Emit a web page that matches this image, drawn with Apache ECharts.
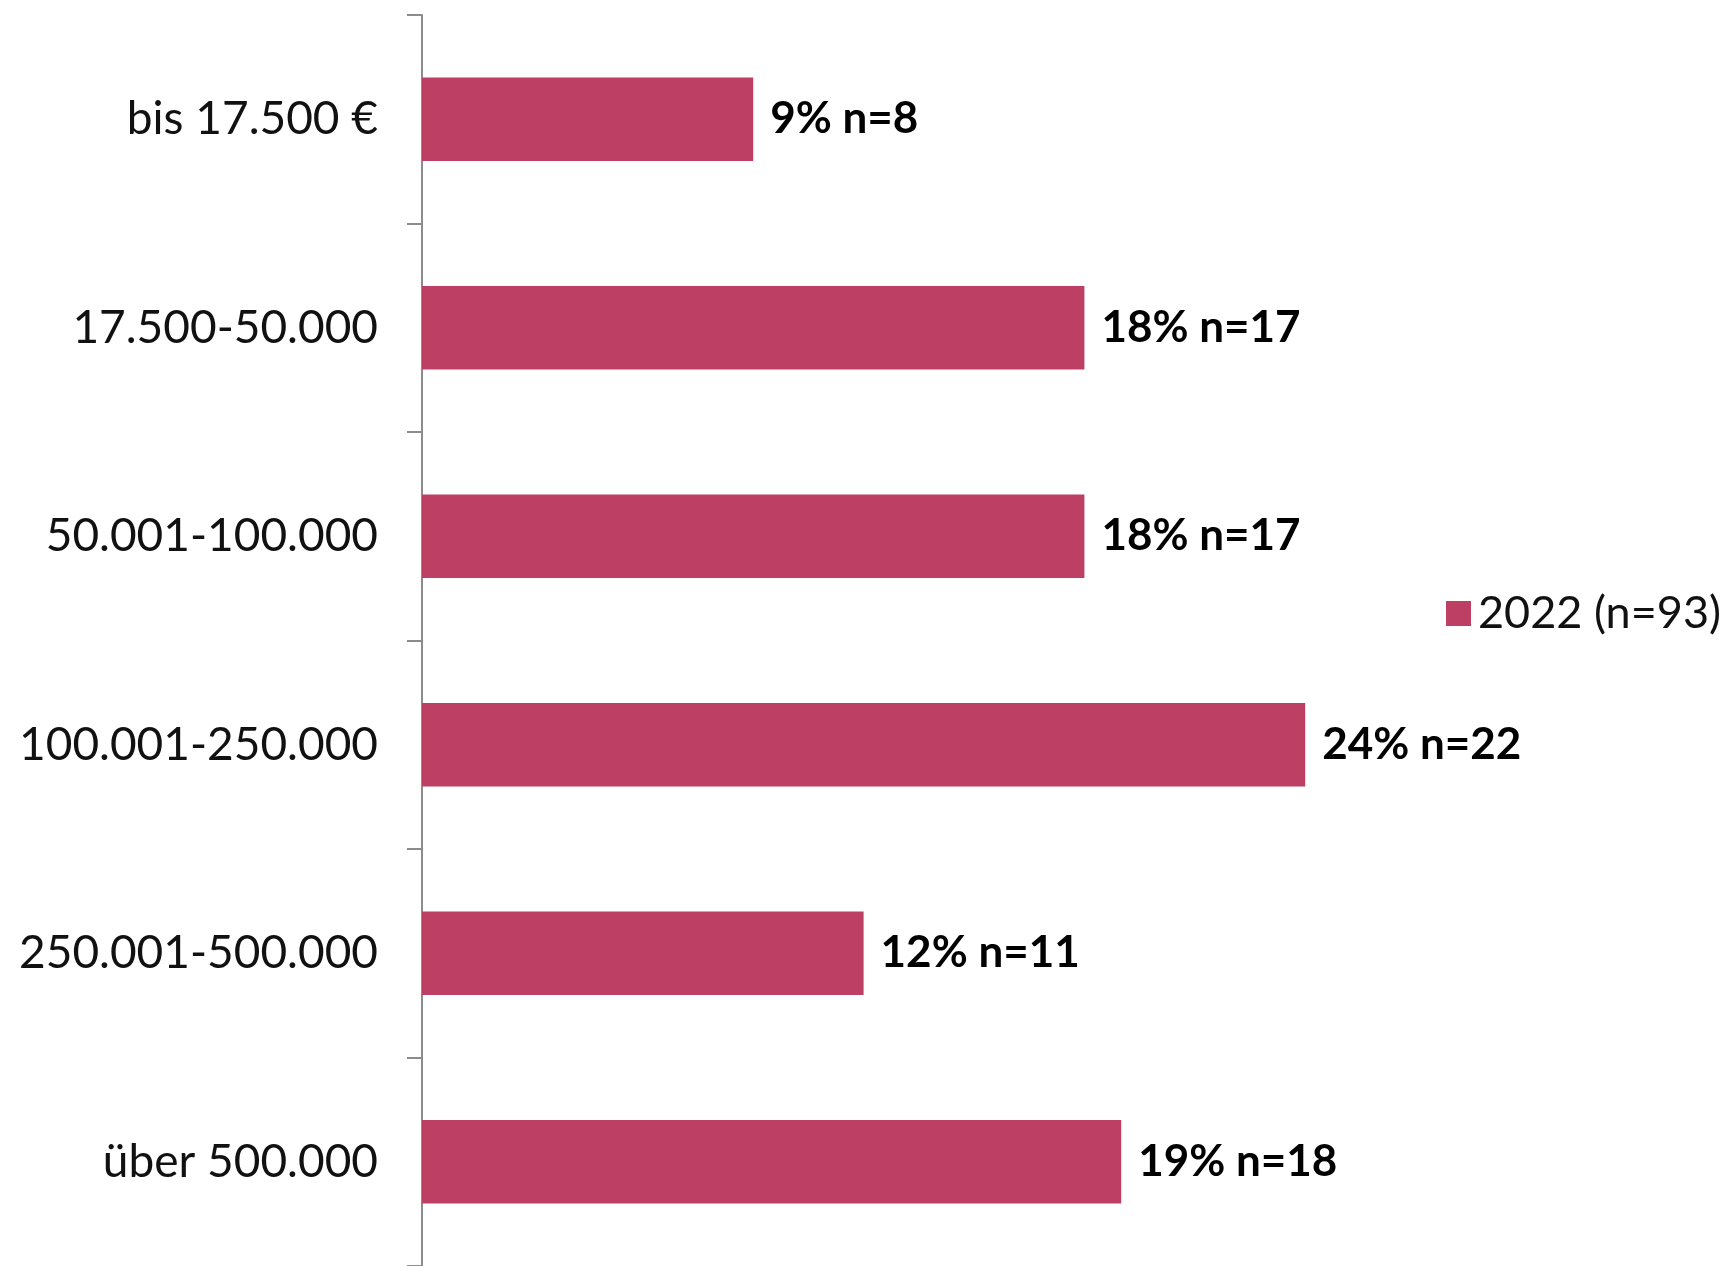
<!DOCTYPE html>
<html>
<head>
<meta charset="utf-8">
<script src="https://cdn.jsdelivr.net/npm/echarts@6/dist/echarts.min.js"></script>
<style>html,body{margin:0;padding:0;background:#fff}#c{width:1731px;height:1266px}</style>
</head>
<body>
<div id="c"></div>
<script>
const categories = ["bis 17.500 €", "17.500-50.000", "50.001-100.000", "100.001-250.000", "250.001-500.000", "über 500.000"];
const percentValues = [9, 18, 18, 24, 12, 19];
const counts = [8, 17, 17, 22, 11, 18];
const seriesName = "2022 (n=93)";

const chart = echarts.init(document.getElementById('c'), null, {renderer: 'canvas'});
chart.setOption({
  animation: false,
  backgroundColor: '#ffffff',
  textStyle: {fontFamily: 'Lato'},
  legend: {
    data: [seriesName],
    left: 1441,
    top: 586,
    icon: 'rect',
    itemWidth: 25,
    itemHeight: 25,
    itemGap: 10,
    textStyle: {fontSize: 45, color: '#111', fontFamily: 'Lato', padding: [0, 0, 0, 2]}
  },
  grid: {left: 422, top: 15, width: 1104, height: 1262, containLabel: false},
  xAxis: {
    type: 'value', min: 0, max: 30,
    show: false
  },
  yAxis: {
    type: 'category',
    data: categories,
    inverse: true,
    axisLine: {show: true, lineStyle: {color: '#8c8c8c', width: 2}},
    axisTick: {show: true, length: 15, lineStyle: {color: '#8c8c8c', width: 2}},
    axisLabel: {fontSize: 46, color: '#111', margin: 44, fontFamily: 'Lato'},
    splitLine: {show: false}
  },
  series: [{
    name: seriesName,
    type: 'bar',
    data: percentValues,
    barWidth: '40%',
    itemStyle: {color: '#BD4064'},
    label: {
      show: true,
      position: 'right',
      distance: 17,
      fontSize: 44,
      fontWeight: 'bold',
      color: '#000',
      fontFamily: 'Lato',
      formatter: p => p.value + '% n=' + counts[p.dataIndex]
    }
  }]
});
</script>
</body>
</html>
